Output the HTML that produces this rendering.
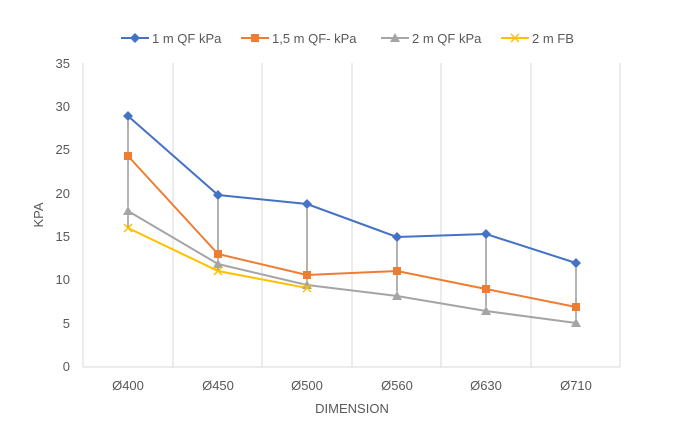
<!DOCTYPE html><html><head><style>body{margin:0;background:#fff}text{font-family:"Liberation Sans",sans-serif;fill:#595959}</style></head><body>
<svg width="673" height="442" xmlns="http://www.w3.org/2000/svg">
<g stroke="#d9d9d9" stroke-width="1">
<line x1="83" y1="63" x2="83" y2="367"/><line x1="173" y1="63" x2="173" y2="367"/><line x1="262" y1="63" x2="262" y2="367"/><line x1="352" y1="63" x2="352" y2="367"/><line x1="441" y1="63" x2="441" y2="367"/><line x1="531" y1="63" x2="531" y2="367"/><line x1="620" y1="63" x2="620" y2="367"/>
<line x1="83" y1="367" x2="620" y2="367"/>
</g>
<g font-size="13" text-anchor="end">
<text x="70" y="371">0</text><text x="70" y="328">5</text><text x="70" y="284">10</text><text x="70" y="241">15</text><text x="70" y="198">20</text><text x="70" y="154">25</text><text x="70" y="111">30</text><text x="70" y="68">35</text></g>
<g font-size="13" text-anchor="middle">
<text x="128" y="390">Ø400</text><text x="218" y="390">Ø450</text><text x="307" y="390">Ø500</text><text x="397" y="390">Ø560</text><text x="486" y="390">Ø630</text><text x="576" y="390">Ø710</text>
<text x="352" y="413">DIMENSION</text>
<text transform="translate(43,215) rotate(-90)">KPA</text></g>
<g stroke="#666" stroke-width="1">
<line x1="128" y1="116" x2="128" y2="228"/><line x1="218" y1="195" x2="218" y2="271"/><line x1="307" y1="204" x2="307" y2="288"/><line x1="397" y1="237" x2="397" y2="296"/><line x1="486" y1="234" x2="486" y2="311"/><line x1="576" y1="263" x2="576" y2="323"/></g>
<g fill="none" stroke-width="2">
<polyline stroke="#a5a5a5" points="128,211 218,264 307,285 397,296 486,311 576,323"/>
<polyline stroke="#ffc000" points="128,228 218,271 307,288"/>
<polyline stroke="#ed7d31" points="128,156 218,254 307,275 397,271 486,289 576,307"/>
<polyline stroke="#4472c4" points="128,116 218,195 307,204 397,237 486,234 576,263"/></g>
<g fill="#a5a5a5"><polygon points="128,206 133,215 123,215"/><polygon points="218,259 223,268 213,268"/><polygon points="307,280 312,289 302,289"/><polygon points="397,291 402,300 392,300"/><polygon points="486,306 491,315 481,315"/><polygon points="576,318 581,327 571,327"/></g>
<g stroke="#ffc000" stroke-width="1.5"><path d="M124,224l8,8M132,224l-8,8M214,267l8,8M222,267l-8,8M303,284l8,8M311,284l-8,8"/></g>
<g fill="#ed7d31"><rect x="124" y="152" width="8" height="8"/><rect x="214" y="250" width="8" height="8"/><rect x="303" y="271" width="8" height="8"/><rect x="393" y="267" width="8" height="8"/><rect x="482" y="285" width="8" height="8"/><rect x="572" y="303" width="8" height="8"/></g>
<g fill="#4472c4"><path d="M128,111l5,5-5,5-5-5zM218,190l5,5-5,5-5-5zM307,199l5,5-5,5-5-5zM397,232l5,5-5,5-5-5zM486,229l5,5-5,5-5-5zM576,258l5,5-5,5-5-5z"/></g>
<g font-size="13">
<line x1="121" y1="38" x2="149" y2="38" stroke="#4472c4" stroke-width="2"/><path d="M135,33l5,5-5,5-5-5z" fill="#4472c4"/><text x="152" y="43">1 m QF kPa</text>
<line x1="241" y1="38" x2="269" y2="38" stroke="#ed7d31" stroke-width="2"/><rect x="251" y="34" width="8" height="8" fill="#ed7d31"/><text x="272" y="43">1,5 m QF- kPa</text>
<line x1="381" y1="38" x2="409" y2="38" stroke="#a5a5a5" stroke-width="2"/><polygon points="395,33 400,42 390,42" fill="#a5a5a5"/><text x="412" y="43">2 m QF kPa</text>
<line x1="501" y1="38" x2="529" y2="38" stroke="#ffc000" stroke-width="2"/><path d="M511,34l8,8M519,34l-8,8" stroke="#ffc000" stroke-width="1.5"/><text x="532" y="43">2 m FB</text></g>
</svg></body></html>
